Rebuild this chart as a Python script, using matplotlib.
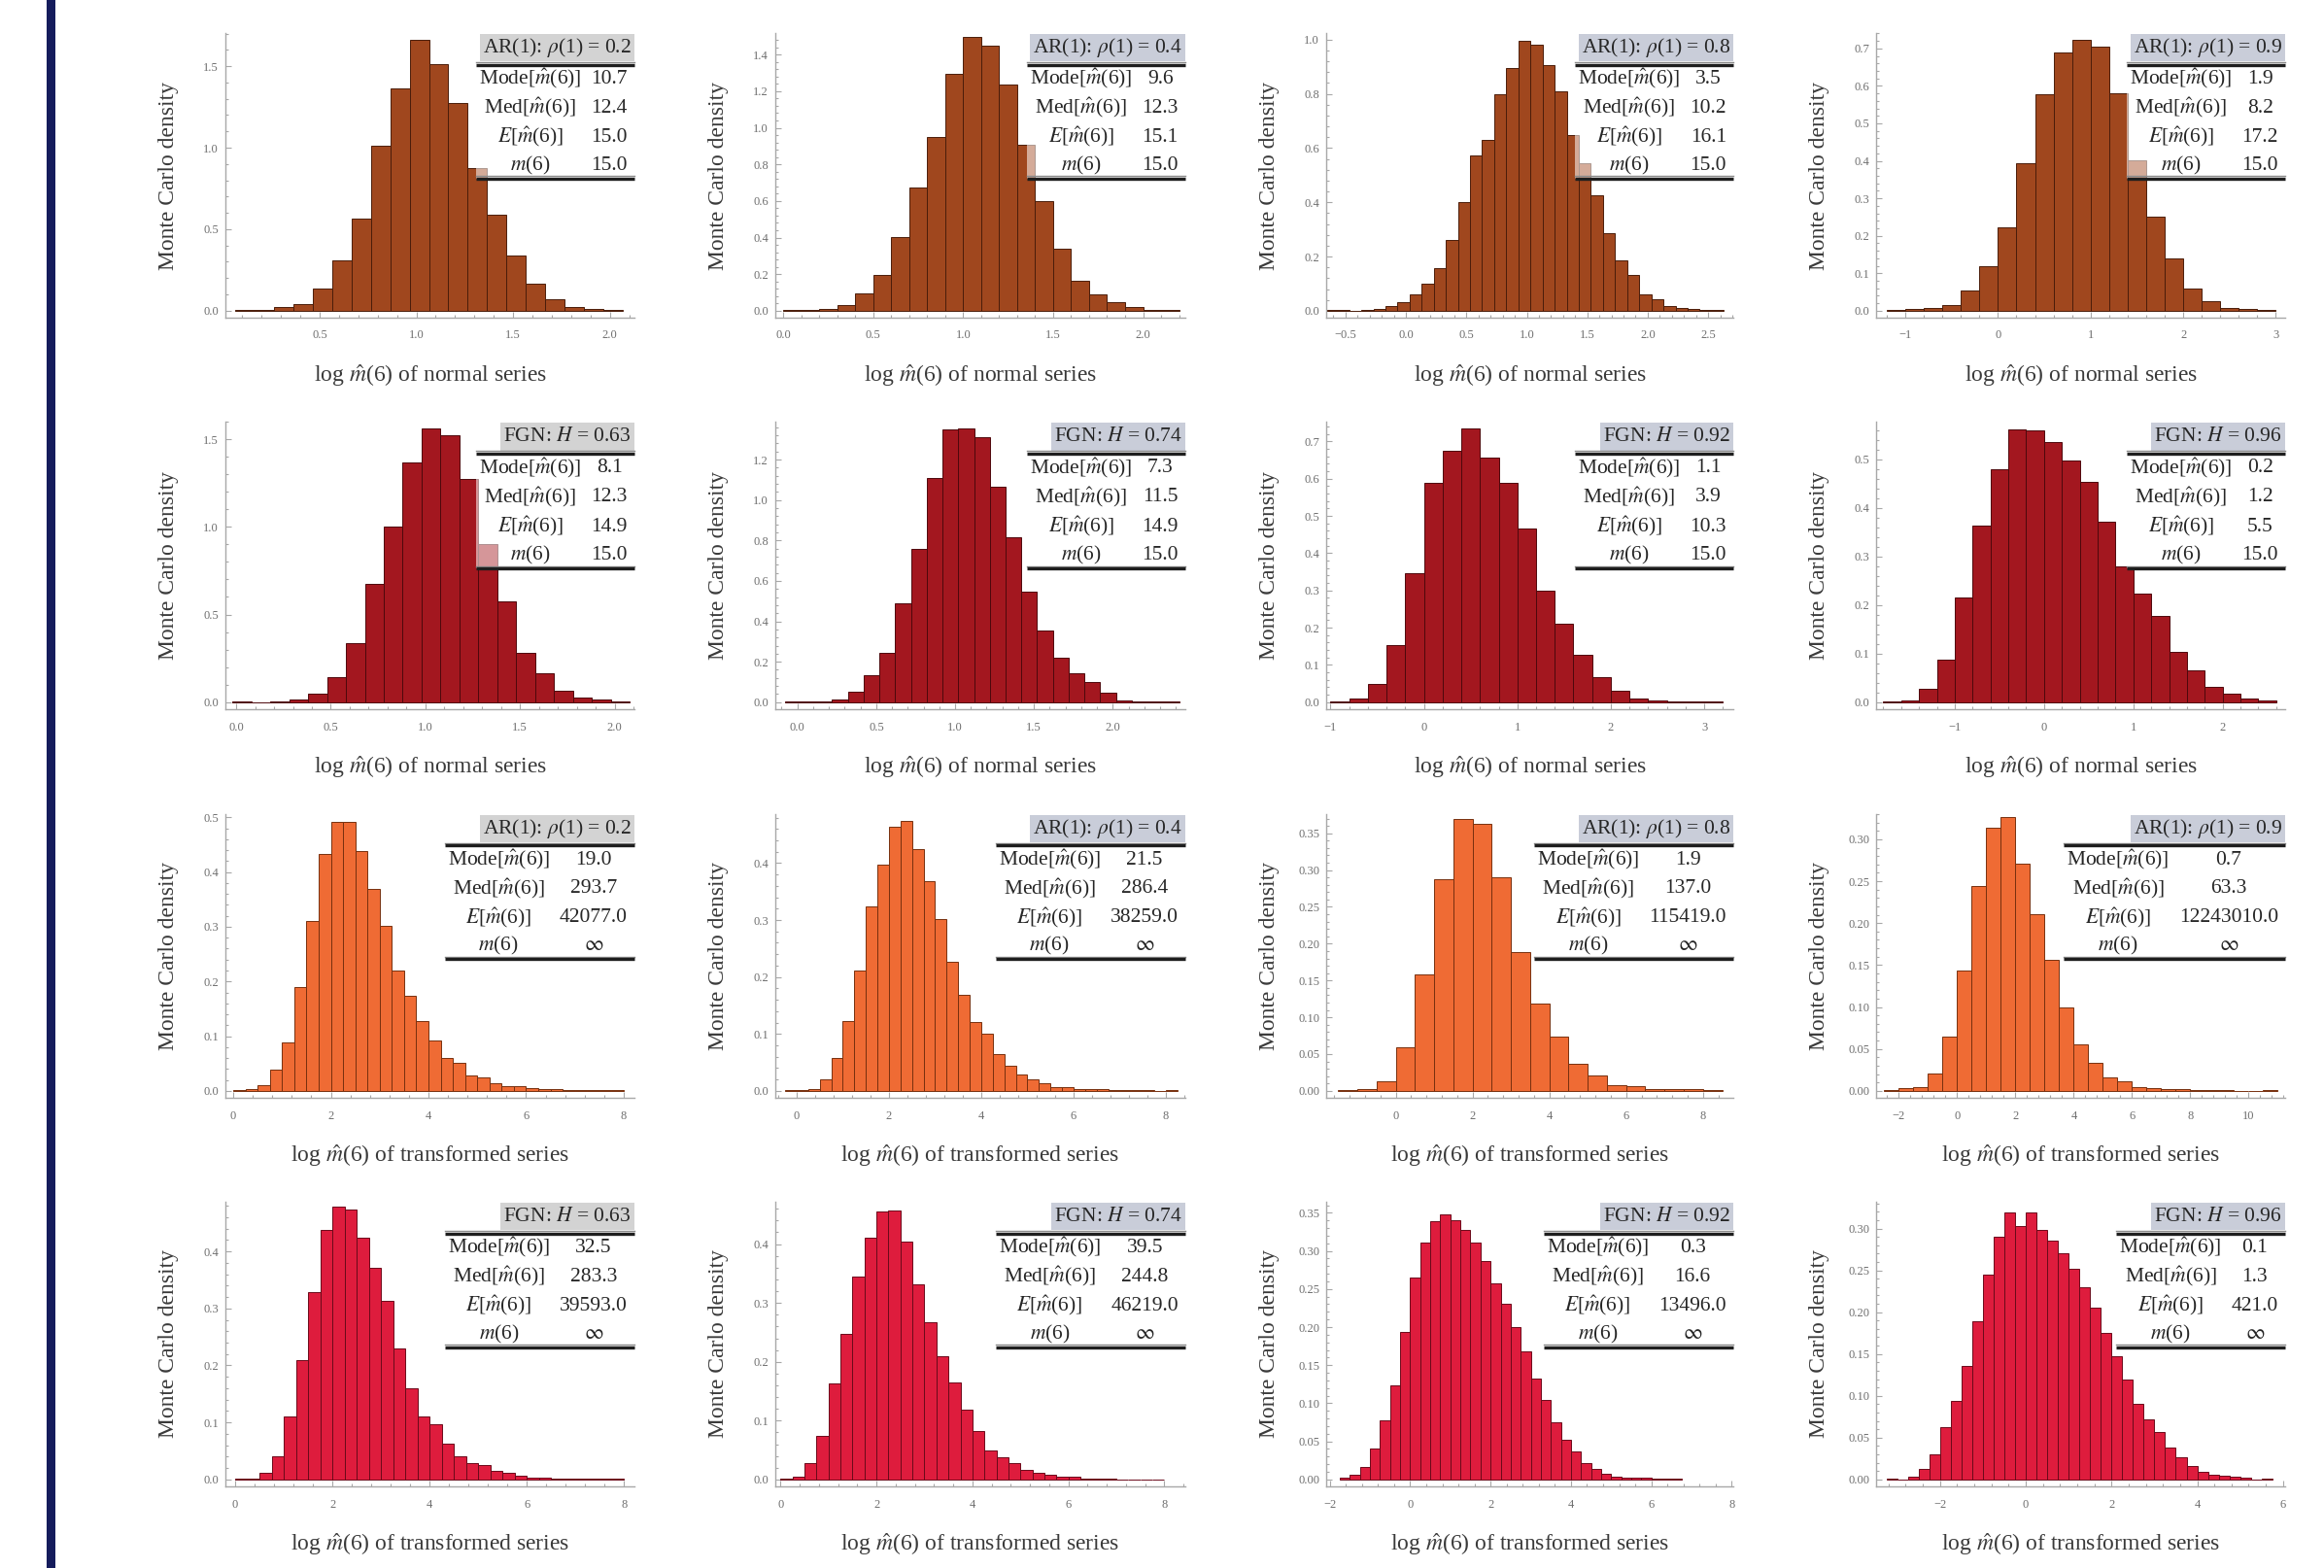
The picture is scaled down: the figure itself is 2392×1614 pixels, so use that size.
import numpy as np
import matplotlib
matplotlib.use("Agg")
import matplotlib.pyplot as plt
from matplotlib.patches import Rectangle
from matplotlib.lines import Line2D
from matplotlib.ticker import FixedLocator, AutoMinorLocator

plt.rcParams['font.family'] = ['Liberation Serif', 'DejaVu Serif']
plt.rcParams['mathtext.fontset'] = 'stix'

W, H = 2392, 1614

# ------------------------------------------------------------------ data
# histogram heights (Monte Carlo density), one list per panel
h_ar02_norm = [0.003, 0.005, 0.02, 0.04, 0.135, 0.306, 0.565, 1.012, 1.364, 1.659, 1.515,
               1.275, 0.873, 0.586, 0.339, 0.168, 0.068, 0.02, 0.013, 0.006]
h_ar04_norm = [0.003, 0.005, 0.012, 0.03, 0.096, 0.195, 0.401, 0.675, 0.951, 1.297, 1.496,
               1.449, 1.239, 0.908, 0.599, 0.337, 0.166, 0.087, 0.047, 0.021, 0.005, 0.003]
h_ar08_norm = [0.004, 0.004, 0.0, 0.003, 0.006, 0.018, 0.032, 0.059, 0.098, 0.156, 0.262,
               0.40, 0.574, 0.629, 0.798, 0.894, 0.994, 0.98, 0.904, 0.809, 0.647, 0.545,
               0.424, 0.285, 0.185, 0.133, 0.059, 0.041, 0.018, 0.012, 0.008, 0.003, 0.002]
h_ar09_norm = [0.001, 0.004, 0.008, 0.015, 0.053, 0.12, 0.223, 0.394, 0.578, 0.688, 0.724,
               0.705, 0.58, 0.402, 0.252, 0.14, 0.059, 0.025, 0.008, 0.004, 0.002]

h_fgn063_norm = [0.003, 0.0, 0.003, 0.013, 0.046, 0.141, 0.338, 0.676, 1.0, 1.366, 1.563,
                 1.521, 1.271, 0.901, 0.576, 0.283, 0.165, 0.064, 0.024, 0.013, 0.005]
h_fgn074_norm = [0.002, 0.002, 0.003, 0.011, 0.05, 0.134, 0.242, 0.49, 0.756, 1.11, 1.35,
                 1.356, 1.309, 1.068, 0.818, 0.546, 0.356, 0.222, 0.142, 0.098, 0.047,
                 0.008, 0.004, 0.003, 0.002]
h_fgn092_norm = [0.003, 0.009, 0.049, 0.152, 0.346, 0.59, 0.674, 0.734, 0.657, 0.588, 0.466,
                 0.30, 0.21, 0.126, 0.066, 0.032, 0.009, 0.004, 0.002, 0.002, 0.001]
h_fgn096_norm = [0.001, 0.004, 0.028, 0.087, 0.215, 0.363, 0.48, 0.562, 0.559, 0.536, 0.497,
                 0.454, 0.372, 0.28, 0.224, 0.178, 0.103, 0.066, 0.031, 0.018, 0.007, 0.003]

h_ar02_tran = [0.001, 0.003, 0.011, 0.039, 0.088, 0.189, 0.311, 0.433, 0.491, 0.491, 0.438,
               0.37, 0.301, 0.22, 0.174, 0.127, 0.092, 0.061, 0.052, 0.029, 0.025, 0.014,
               0.009, 0.008, 0.005, 0.004, 0.003, 0.002, 0.001, 0.001, 0.001, 0.001]
h_ar04_tran = [0.001, 0.001, 0.004, 0.021, 0.058, 0.122, 0.211, 0.324, 0.398, 0.464, 0.474,
               0.424, 0.368, 0.302, 0.227, 0.168, 0.121, 0.10, 0.065, 0.044, 0.028, 0.021,
               0.014, 0.007, 0.006, 0.004, 0.004, 0.003, 0.001, 0.001, 0.001, 0.001, 0.0, 0.001]
h_ar08_tran = [0.001, 0.003, 0.013, 0.059, 0.158, 0.288, 0.369, 0.363, 0.29, 0.189, 0.118,
               0.074, 0.037, 0.021, 0.008, 0.006, 0.003, 0.002, 0.002, 0.001]
h_ar09_tran = [0.001, 0.003, 0.005, 0.021, 0.065, 0.144, 0.244, 0.314, 0.326, 0.271, 0.211,
               0.156, 0.099, 0.055, 0.033, 0.016, 0.011, 0.005, 0.003, 0.002, 0.002, 0.001,
               0.001, 0.0005, 0.0, 0.0, 0.001]

h_fgn063_tran = [0.001, 0.002, 0.012, 0.04, 0.111, 0.209, 0.329, 0.438, 0.478, 0.474, 0.424,
                 0.371, 0.313, 0.229, 0.16, 0.111, 0.097, 0.063, 0.041, 0.029, 0.026, 0.015,
                 0.011, 0.007, 0.004, 0.003, 0.002, 0.002, 0.001, 0.001, 0.001, 0.001]
h_fgn074_tran = [0.001, 0.004, 0.028, 0.074, 0.164, 0.247, 0.345, 0.411, 0.456, 0.457, 0.405,
                 0.331, 0.268, 0.209, 0.165, 0.118, 0.082, 0.049, 0.038, 0.028, 0.017, 0.011,
                 0.008, 0.005, 0.004, 0.002, 0.002, 0.001, 0.0005, 0.0005, 0.0005, 0.0005]
h_fgn092_tran = [0.003, 0.006, 0.017, 0.041, 0.077, 0.123, 0.193, 0.265, 0.311, 0.339, 0.348,
                 0.34, 0.328, 0.311, 0.287, 0.258, 0.23, 0.2, 0.168, 0.133, 0.104, 0.075,
                 0.052, 0.037, 0.021, 0.014, 0.008, 0.004, 0.003, 0.002, 0.002, 0.001, 0.001, 0.001]
h_fgn096_tran = [0.001, 0.0, 0.003, 0.013, 0.03, 0.063, 0.094, 0.136, 0.189, 0.245, 0.29,
                 0.319, 0.303, 0.319, 0.298, 0.285, 0.27, 0.252, 0.23, 0.205, 0.175, 0.147,
                 0.119, 0.091, 0.072, 0.057, 0.038, 0.026, 0.016, 0.009, 0.006, 0.004, 0.003,
                 0.002, 0.0, 0.001]

heights = [[h_ar02_norm, h_ar04_norm, h_ar08_norm, h_ar09_norm],
           [h_fgn063_norm, h_fgn074_norm, h_fgn092_norm, h_fgn096_norm],
           [h_ar02_tran, h_ar04_tran, h_ar08_tran, h_ar09_tran],
           [h_fgn063_tran, h_fgn074_tran, h_fgn092_tran, h_fgn096_tran]]

# left edge of first bin and bin width
bin_start = [[0.065, 0.0, -0.67, -1.2],
             [-0.02, -0.08, -1.0, -1.8],
             [0.0, -0.25, -1.5, -2.5],
             [0.0, 0.0, -1.75, -3.25]]
bin_width = [[0.1, 0.1, 0.1, 0.2],
             [0.1, 0.1, 0.2, 0.2],
             [0.25, 0.25, 0.5, 0.5],
             [0.25, 0.25, 0.25, 0.25]]

# axis ranges
x_range = [[(0.013, 2.127), (-0.045, 2.235), (-0.66, 2.708), (-1.315, 3.10)],
           [(-0.057, 2.105), (-0.14, 2.46), (-1.045, 3.31), (-1.88, 2.7)],
           [(-0.16, 8.22), (-0.46, 8.42), (-1.81, 8.79), (-2.78, 11.25)],
           [(-0.2, 8.21), (-0.11, 8.44), (-2.09, 8.04), (-3.49, 6.05)]]
y_top = [[1.703, 1.518, 1.024, 0.741],
         [1.60, 1.388, 0.753, 0.577],
         [0.506, 0.486, 0.376, 0.33],
         [0.487, 0.472, 0.3645, 0.332]]

# tick labels
x_ticks = [[[0.5, 1.0, 1.5, 2.0], [0.0, 0.5, 1.0, 1.5, 2.0], [-0.5, 0.0, 0.5, 1.0, 1.5, 2.0, 2.5], [-1, 0, 1, 2, 3]],
           [[0.0, 0.5, 1.0, 1.5, 2.0], [0.0, 0.5, 1.0, 1.5, 2.0], [-1, 0, 1, 2, 3], [-1, 0, 1, 2]],
           [[0, 2, 4, 6, 8], [0, 2, 4, 6, 8], [0, 2, 4, 6, 8], [-2, 0, 2, 4, 6, 8, 10]],
           [[0, 2, 4, 6, 8], [0, 2, 4, 6, 8], [-2, 0, 2, 4, 6, 8], [-2, 0, 2, 4, 6]]]
x_dec = [[1, 1, 1, 0], [1, 1, 0, 0], [0, 0, 0, 0], [0, 0, 0, 0]]
y_ticks = [[[0.0, 0.5, 1.0, 1.5], [0.0, 0.2, 0.4, 0.6, 0.8, 1.0, 1.2, 1.4],
            [0.0, 0.2, 0.4, 0.6, 0.8, 1.0], [0.0, 0.1, 0.2, 0.3, 0.4, 0.5, 0.6, 0.7]],
           [[0.0, 0.5, 1.0, 1.5], [0.0, 0.2, 0.4, 0.6, 0.8, 1.0, 1.2],
            [0.0, 0.1, 0.2, 0.3, 0.4, 0.5, 0.6, 0.7], [0.0, 0.1, 0.2, 0.3, 0.4, 0.5]],
           [[0.0, 0.1, 0.2, 0.3, 0.4, 0.5], [0.0, 0.1, 0.2, 0.3, 0.4],
            [0.0, 0.05, 0.10, 0.15, 0.20, 0.25, 0.30, 0.35], [0.0, 0.05, 0.10, 0.15, 0.20, 0.25, 0.30]],
           [[0.0, 0.1, 0.2, 0.3, 0.4], [0.0, 0.1, 0.2, 0.3, 0.4],
            [0.0, 0.05, 0.10, 0.15, 0.20, 0.25, 0.30, 0.35], [0.0, 0.05, 0.10, 0.15, 0.20, 0.25, 0.30]]]
y_dec = [[1, 1, 1, 1], [1, 1, 1, 1], [1, 1, 2, 2], [1, 1, 2, 2]]

# table contents
headers = [[r"AR(1): $\rho$(1) = 0.2", r"AR(1): $\rho$(1) = 0.4", r"AR(1): $\rho$(1) = 0.8", r"AR(1): $\rho$(1) = 0.9"],
           [r"FGN: $H$ = 0.63", r"FGN: $H$ = 0.74", r"FGN: $H$ = 0.92", r"FGN: $H$ = 0.96"],
           [r"AR(1): $\rho$(1) = 0.2", r"AR(1): $\rho$(1) = 0.4", r"AR(1): $\rho$(1) = 0.8", r"AR(1): $\rho$(1) = 0.9"],
           [r"FGN: $H$ = 0.63", r"FGN: $H$ = 0.74", r"FGN: $H$ = 0.92", r"FGN: $H$ = 0.96"]]
row_labels = [r"Mode[$\hat{m}$(6)]", r"Med[$\hat{m}$(6)]", r"$E$[$\hat{m}$(6)]", r"$m$(6)"]
INF = r"$\infty$"
table_vals = [[["10.7", "12.4", "15.0", "15.0"], ["9.6", "12.3", "15.1", "15.0"],
               ["3.5", "10.2", "16.1", "15.0"], ["1.9", "8.2", "17.2", "15.0"]],
              [["8.1", "12.3", "14.9", "15.0"], ["7.3", "11.5", "14.9", "15.0"],
               ["1.1", "3.9", "10.3", "15.0"], ["0.2", "1.2", "5.5", "15.0"]],
              [["19.0", "293.7", "42077.0", INF], ["21.5", "286.4", "38259.0", INF],
               ["1.9", "137.0", "115419.0", INF], ["0.7", "63.3", "12243010.0", INF]],
              [["32.5", "283.3", "39593.0", INF], ["39.5", "244.8", "46219.0", INF],
               ["0.3", "16.6", "13496.0", INF], ["0.1", "1.3", "421.0", INF]]]
x_labels = [r"log $\hat{m}$(6) of normal series"] * 2 + [r"log $\hat{m}$(6) of transformed series"] * 2
y_label = "Monte Carlo density"

# ------------------------------------------------------------------ style
row_colors = ['#a0471e', '#a3171f', '#ef6b34', '#de1c3d']
edge_colors = ['#4a1d0a', '#4d080c', '#77300f', '#6a0a1a']
hdr_colors = ['#d3d3d3', '#c9cdd9', '#c9cdd9', '#c9cdd9']

col_left = [232, 798, 1365, 1931]
col_right = [653, 1220, 1784, 2352]
row_top = [34, 434, 838, 1237]
row_bot = [327, 730, 1130, 1530]

TFS = 15.5
LFS = 17
TICKFS = 9
AX_GRAY = '#a8a8a8'

fig = plt.figure(figsize=(W / 100, H / 100), dpi=100)
fig.patches.append(Rectangle((48 / W, 0), 9 / W, 1, transform=fig.transFigure,
                             facecolor='#151c5c', edgecolor='none', zorder=0))

renderer = fig.canvas.get_renderer()

# table geometry (axes fraction)
HDR_TOP, HDR_BOT, HDR_Y = 0.997, 0.900, 0.9485
LINE_TOP, LINE_BOT = 0.889, 0.489
ROW_Y = [0.839, 0.737, 0.634, 0.535]


def fmt(v, d):
    s = f"{v:.{d}f}"
    return s.replace("-", "\u2212")


for r in range(4):
    for c in range(4):
        l, rr = col_left[c], col_right[c]
        t, b = row_top[r], row_bot[r]
        axw, axh = rr - l, b - t
        ax = fig.add_axes([l / W, 1 - b / H, axw / W, axh / H])

        hs = heights[r][c]
        edges = bin_start[r][c] + bin_width[r][c] * np.arange(len(hs))
        ax.bar(edges, hs, width=bin_width[r][c], align='edge', color=row_colors[r],
               edgecolor=edge_colors[r], linewidth=0.7, zorder=2)

        ytop = y_top[r][c]
        ax.set_xlim(*x_range[r][c])
        ax.set_ylim(-0.025 * ytop, ytop)

        for s in ('top', 'right'):
            ax.spines[s].set_visible(False)
        for s in ('left', 'bottom'):
            ax.spines[s].set_color(AX_GRAY)
            ax.spines[s].set_linewidth(1.0)

        xt = x_ticks[r][c]
        ax.xaxis.set_major_locator(FixedLocator(xt))
        ax.set_xticklabels([fmt(v, x_dec[r][c]) for v in xt])
        yt = y_ticks[r][c]
        ax.yaxis.set_major_locator(FixedLocator(yt))
        ax.set_yticklabels([fmt(v, y_dec[r][c]) for v in yt])
        ax.xaxis.set_minor_locator(AutoMinorLocator(5))
        ax.yaxis.set_minor_locator(AutoMinorLocator(5))
        ax.tick_params(which='both', direction='in', color=AX_GRAY, width=0.8,
                       labelsize=TICKFS, labelcolor='#6e6e6e')
        ax.tick_params(which='major', length=4)
        ax.tick_params(which='minor', length=2)
        ax.tick_params(axis='x', pad=9)
        ax.tick_params(axis='y', pad=5)

        ax.set_xlabel(x_labels[r], fontsize=LFS, color='#3a3a3a')
        ax.xaxis.set_label_coords(0.5, -46 / axh)
        ax.set_ylabel(y_label, fontsize=LFS, color='#3a3a3a')
        ax.yaxis.set_label_coords(-48 / axw, 0.5)

        # ---- statistics table
        kw = dict(transform=ax.transAxes, fontsize=TFS, color='#262626',
                  va='center', ha='center', zorder=7)
        lab_t = [ax.text(0, y, s, **kw) for s, y in zip(row_labels, ROW_Y)]
        val_t = [ax.text(0, y, s, **kw) for s, y in zip(table_vals[r][c], ROW_Y)]
        hdr_t = ax.text(0, HDR_Y, headers[r][c], **kw)
        lw = max(tt.get_window_extent(renderer).width for tt in lab_t) + 6
        vw = max(tt.get_window_extent(renderer).width for tt in val_t) + 14
        hw = hdr_t.get_window_extent(renderer).width + 6
        left = 1 - (lw + vw) / axw
        for tt in lab_t:
            tt.set_x(left + lw / 2 / axw)
        for tt in val_t:
            tt.set_x(1 - vw / 2 / axw)
        hdr_t.set_x(1 - hw / 2 / axw)
        ax.add_patch(Rectangle((1 - hw / axw, HDR_BOT), hw / axw, HDR_TOP - HDR_BOT,
                               transform=ax.transAxes, facecolor=hdr_colors[c],
                               edgecolor='none', zorder=5, clip_on=False))
        ax.add_patch(Rectangle((left, LINE_BOT), 1 - left, HDR_BOT - LINE_BOT,
                               transform=ax.transAxes, facecolor='white', alpha=0.55,
                               edgecolor='none', zorder=4, clip_on=False))
        for y in (LINE_TOP, LINE_BOT):
            ax.add_line(Line2D([left, 1], [y + 0.009, y + 0.009], transform=ax.transAxes,
                               color='#8a8a8a', lw=1.0, zorder=6, clip_on=False))
            ax.add_line(Line2D([left, 1], [y, y], transform=ax.transAxes,
                               color='#1e1e1e', lw=2.4, zorder=6, clip_on=False,
                               solid_capstyle='butt'))

fig.savefig("out.png", dpi=100, facecolor='white')
